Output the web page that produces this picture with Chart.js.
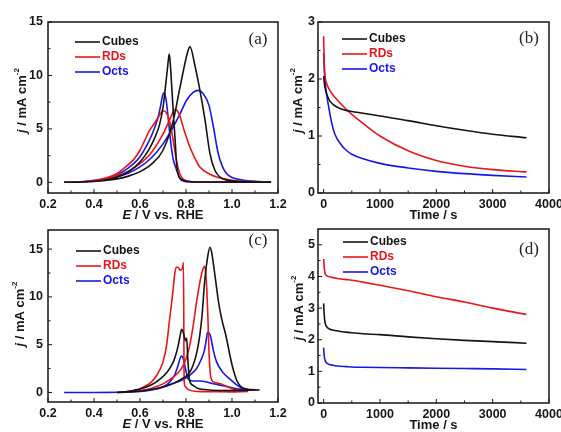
<!DOCTYPE html>
<html>
<head>
<meta charset="utf-8">
<script src="https://cdn.jsdelivr.net/npm/chart.js@4.4.1/dist/chart.umd.min.js"></script>
<style>
  body { margin: 0; background: #fff; }
  #wrap { position: relative; width: 561px; height: 432px; overflow: hidden; }
  #wrap canvas { position: absolute; }
</style>
</head>
<body>
<div id="wrap">
  <canvas id="cvA" width="292" height="225" style="left:0;top:0"></canvas>
  <canvas id="cvB" width="281" height="225" style="left:280px;top:0"></canvas>
  <canvas id="cvC" width="292" height="207" style="left:0;top:225px"></canvas>
  <canvas id="cvD" width="281" height="207" style="left:280px;top:225px"></canvas>
</div>
<script>
// (a) cyclic voltammograms, forward scan then reverse scan
const cubesA_E = [0.27,0.30,0.35,0.40,0.45,0.50,0.55,0.60,0.65,0.70,0.745,0.774,0.806,0.817,0.84,0.858,0.883,0.904,0.926,0.95,0.98,1.02,1.08,1.17,
                  1.10,1.00,0.90,0.82,0.795,0.78,0.768,0.76,0.752,0.744,0.737,0.731,0.727,0.721,0.715,0.709,0.70,0.685,0.665,0.64,0.60,0.55,0.50,0.45,0.40,0.35,0.27];
const cubesA_j = [0,0.01,0.03,0.08,0.17,0.32,0.58,1.0,1.7,3.0,5.8,8.9,12.1,12.7,10.8,8.9,5.8,2.7,1.1,0.45,0.2,0.1,0.05,0.02,
                  0.02,0.02,0.03,0.05,0.15,0.3,0.6,1.5,4.2,6.8,9.3,11.3,12.0,11.0,9.8,8.6,7.0,5.4,4.2,3.1,1.9,1.0,0.5,0.22,0.09,0.03,0];
const rdsA_E = [0.27,0.35,0.40,0.45,0.50,0.55,0.60,0.65,0.70,0.73,0.752,0.77,0.79,0.817,0.84,0.861,0.90,0.933,0.97,1.00,1.05,1.17,
                1.05,0.90,0.82,0.795,0.78,0.765,0.752,0.742,0.73,0.715,0.701,0.685,0.665,0.643,0.62,0.60,0.571,0.53,0.499,0.45,0.40,0.35,0.27];
const rdsA_j = [0,0.05,0.15,0.33,0.62,1.05,1.75,2.8,4.5,5.9,6.8,6.4,5.0,3.3,2.2,1.4,0.8,0.5,0.3,0.2,0.1,0.03,
                0.03,0.03,0.08,0.2,0.5,1.4,2.9,4.2,5.6,6.5,6.7,6.3,5.6,4.9,3.9,3.0,2.1,1.3,0.8,0.4,0.18,0.06,0];
const octsA_E = [0.27,0.35,0.40,0.45,0.50,0.55,0.60,0.65,0.70,0.745,0.774,0.803,0.83,0.853,0.875,0.90,0.919,0.94,0.96,0.977,1.00,1.05,1.10,1.17,
                 1.05,0.90,0.82,0.79,0.775,0.765,0.755,0.745,0.735,0.725,0.715,0.706,0.698,0.69,0.68,0.66,0.64,0.60,0.55,0.50,0.45,0.40,0.35,0.27];
const octsA_j = [0,0.04,0.12,0.27,0.5,0.88,1.45,2.3,3.6,5.2,6.4,7.7,8.4,8.6,8.3,7.2,5.2,2.7,1.4,0.8,0.45,0.2,0.1,0.05,
                 0.03,0.02,0.03,0.1,0.3,0.8,1.4,2.1,3.5,5.5,7.5,8.4,8.1,7.2,6.2,4.9,3.9,2.4,1.35,0.7,0.35,0.15,0.05,0];

// (c) cyclic voltammograms
const cubesC_E = [0.50,0.55,0.60,0.65,0.70,0.75,0.78,0.81,0.83,0.848,0.86,0.87,0.88,0.893,0.904,0.912,0.92,0.93,0.94,0.95,0.96,0.97,0.98,0.99,1.00,1.01,1.02,1.035,1.05,1.08,1.12,
                  1.05,0.95,0.88,0.85,0.83,0.815,0.808,0.803,0.799,0.795,0.788,0.781,0.775,0.765,0.755,0.745,0.72,0.687,0.65,0.60,0.55,0.50];
const cubesC_j = [0,0.04,0.12,0.3,0.55,1.0,1.4,1.9,2.8,4.3,6.0,8.1,11.3,14.0,15.2,14.6,13.3,11.5,9.7,8.3,7.2,6.3,5.2,4.0,2.9,2.0,1.3,0.7,0.45,0.3,0.25,
                  0.22,0.2,0.3,0.45,0.75,1.3,3.5,5.7,5.4,5.6,6.3,6.6,6.0,4.8,3.9,3.2,2.2,1.4,0.8,0.35,0.12,0];
const rdsC_E = [0.50,0.55,0.60,0.65,0.70,0.75,0.78,0.80,0.817,0.83,0.846,0.86,0.87,0.88,0.886,0.891,0.895,0.899,0.903,0.908,0.92,0.95,0.98,1.00,1.03,1.07,
                1.00,0.90,0.85,0.81,0.797,0.792,0.789,0.785,0.774,0.765,0.757,0.75,0.745,0.738,0.727,0.716,0.70,0.673,0.65,0.60,0.55,0.50];
const rdsC_j = [0,0.05,0.2,0.45,0.9,1.7,2.5,3.5,5.0,6.8,9.5,11.5,12.6,13.2,12.5,10.5,8.0,5.0,2.8,1.6,1.1,0.9,0.6,0.4,0.2,0.1,
                0.06,0.08,0.1,0.3,0.6,1.2,13.6,13.0,12.8,13.1,13.1,12.2,11.0,9.5,7.3,5.0,3.2,1.8,1.1,0.4,0.1,0];
const octsC_E = [0.27,0.40,0.50,0.60,0.65,0.70,0.75,0.80,0.83,0.846,0.865,0.88,0.888,0.894,0.905,0.92,0.933,0.96,0.991,1.02,1.05,1.07,
                 1.03,1.00,0.96,0.919,0.89,0.86,0.83,0.81,0.80,0.79,0.781,0.775,0.765,0.75,0.73,0.70,0.65,0.60,0.55,0.50,0.40,0.27];
const octsC_j = [0,0,0.02,0.15,0.3,0.6,1.0,1.5,2.1,2.5,3.4,4.4,5.5,6.3,6.0,4.3,3.2,2.1,1.4,0.8,0.4,0.3,
                 0.35,0.5,0.7,0.9,1.1,1.2,1.2,1.4,2.2,3.4,3.8,3.6,2.8,1.8,1.1,0.6,0.25,0.1,0.04,0.02,0,0];

// (b) and (d) chronoamperometry, sampled at the same times
const timeS = [0,10,25,50,100,150,200,300,400,500,700,1000,1500,2000,2500,3000,3600];
const cubesB = [2.05,1.95,1.85,1.75,1.63,1.57,1.53,1.48,1.45,1.43,1.40,1.35,1.27,1.18,1.10,1.03,0.97];
const rdsB   = [2.75,2.3,2.05,1.93,1.82,1.74,1.68,1.57,1.47,1.38,1.22,1.0,0.74,0.57,0.47,0.41,0.37];
const octsB  = [2.45,2.2,1.95,1.75,1.45,1.2,1.03,0.86,0.75,0.68,0.6,0.52,0.44,0.38,0.34,0.31,0.28];
const cubesD = [3.15,2.8,2.55,2.42,2.34,2.31,2.29,2.26,2.24,2.22,2.19,2.16,2.09,2.03,1.98,1.94,1.89];
const rdsD   = [4.55,4.3,4.1,4.03,3.99,3.97,3.95,3.92,3.9,3.88,3.82,3.72,3.55,3.36,3.19,3.0,2.8];
const octsD  = [1.75,1.5,1.35,1.27,1.22,1.2,1.18,1.16,1.15,1.14,1.13,1.12,1.11,1.1,1.09,1.08,1.06];

// tick labels
const eTicks = [0.2,0.4,0.6,0.8,1.0,1.2];
const tTicks = [0,1000,2000,3000,4000];
const jTicksA = [0,5,10,15];
const jTicksB = [0,1,2,3];
const jTicksC = [0,5,10,15];
const jTicksD = [0,1,2,3,4,5];

const ink = '#161616';
const colors = { Cubes: '#141414', RDs: '#e8161b', Octs: '#1818e6' };
const sans = '"Liberation Sans", Arial, sans-serif';

// text made of pieces: [text, 'i' italic | 's' superscript | '' plain]
function drawRich(ctx, parts, cx, cy, size) {
  const fontOf = p => p[1] === 's' ? `bold ${Math.round(size * 0.62)}px ${sans}`
                                   : `${p[1] === 'i' ? 'italic ' : ''}bold ${size}px ${sans}`;
  let total = 0;
  parts.forEach(p => { ctx.font = fontOf(p); total += ctx.measureText(p[0]).width; });
  let x = cx - total / 2;
  parts.forEach(p => {
    ctx.font = fontOf(p);
    ctx.fillText(p[0], x, p[1] === 's' ? cy - size * 0.42 : cy);
    x += ctx.measureText(p[0]).width;
  });
}

function midpoints(v) {
  const out = [];
  for (let i = 0; i < v.length - 1; i++) out.push((v[i] + v[i + 1]) / 2);
  return out;
}

// frame, inward ticks, legend, panel letter and axis titles
function framePlugin(p) {
  return {
    id: 'frame',
    afterDatasetsDraw(chart) {
      const { ctx, chartArea: a, scales: { x, y } } = chart;
      ctx.save();
      ctx.strokeStyle = ink;
      ctx.lineWidth = 1;
      ctx.beginPath();
      p.xTicks.forEach(v => { const px = x.getPixelForValue(v); ctx.moveTo(px, a.bottom); ctx.lineTo(px, a.bottom - 4); });
      midpoints(p.xTicks).forEach(v => { const px = x.getPixelForValue(v); ctx.moveTo(px, a.bottom); ctx.lineTo(px, a.bottom - 2.5); });
      p.yTicks.forEach(v => { const py = y.getPixelForValue(v); ctx.moveTo(a.left, py); ctx.lineTo(a.left + 4, py); });
      midpoints(p.yTicks).forEach(v => { const py = y.getPixelForValue(v); ctx.moveTo(a.left, py); ctx.lineTo(a.left + 2.5, py); });
      ctx.stroke();
      ctx.lineWidth = 1.5;
      ctx.strokeRect(a.left, a.top, a.right - a.left, a.bottom - a.top);

      // legend
      ctx.textBaseline = 'middle';
      ctx.textAlign = 'left';
      ctx.font = `bold 12px ${sans}`;
      chart.data.datasets.forEach((ds, i) => {
        const ly = a.top + p.legend[1] + i * 15;
        const lx = a.left + p.legend[0];
        ctx.strokeStyle = ds.borderColor;
        ctx.lineWidth = 1.6;
        ctx.beginPath(); ctx.moveTo(lx, ly); ctx.lineTo(lx + 25, ly); ctx.stroke();
        ctx.fillStyle = ds.borderColor;
        ctx.fillText(ds.label, lx + 27, ly);
      });

      // panel letter
      ctx.fillStyle = '#222';
      ctx.textAlign = 'center';
      ctx.font = `17px "Liberation Serif", "Times New Roman", serif`;
      ctx.fillText(p.tag, a.right - 20, a.top + p.tagDy);

      // axis titles
      ctx.fillStyle = ink;
      ctx.textAlign = 'left';
      drawRich(ctx, p.xTitle, (a.left + a.right) / 2, a.bottom + 22, 13);
      ctx.translate(a.left - p.yTitleDx, (a.top + a.bottom) / 2 + p.yTitleDy);
      ctx.rotate(-Math.PI / 2);
      drawRich(ctx, [['j', 'i'], [' / mA cm', ''], ['-2', 's']], 0, 0, 13);
      ctx.restore();
    }
  };
}

function makePanel(id, p) {
  const cv = document.getElementById(id);
  const W = cv.width, H = cv.height;
  const tickFont = { family: sans, size: 12.5, weight: 'bold' };
  new Chart(cv, {
    type: 'scatter',
    data: {
      datasets: p.series.map(s => ({
        label: s[0],
        data: s[1].map((v, i) => ({ x: v, y: s[2][i] })),
        showLine: true,
        borderColor: colors[s[0]],
        borderWidth: 1.6,
        pointRadius: 0,
        cubicInterpolationMode: 'monotone',
        fill: false
      }))
    },
    options: {
      responsive: false,
      animation: false,
      events: [],
      layout: { padding: { left: 0, top: p.area[2], right: W - p.area[1], bottom: 0 } },
      plugins: { legend: { display: false }, tooltip: { enabled: false } },
      scales: {
        x: {
          type: 'linear', min: p.xRange[0], max: p.xRange[1],
          grid: { display: false, drawTicks: false }, border: { display: false },
          afterBuildTicks: s => { s.ticks = p.xTicks.map(v => ({ value: v })); },
          afterFit: s => { s.height = H - p.area[3]; s.paddingLeft = 0; s.paddingRight = 0; },
          ticks: { padding: 4, font: tickFont, color: ink, maxRotation: 0, autoSkip: false, callback: p.xFmt }
        },
        y: {
          type: 'linear', min: p.yRange[0], max: p.yRange[1],
          grid: { display: false, drawTicks: false }, border: { display: false },
          afterBuildTicks: s => { s.ticks = p.yTicks.map(v => ({ value: v })); },
          afterFit: s => { s.width = p.area[0]; s.paddingTop = 0; s.paddingBottom = 0; },
          ticks: { padding: p.yPad, font: tickFont, color: ink, autoSkip: false, callback: v => String(v) }
        }
      }
    },
    plugins: [framePlugin(p)]
  });
}

const eTitle = [['E', 'i'], [' / V vs. RHE', '']];
const tTitle = [['Time / s', '']];

makePanel('cvA', {
  area: [48, 278, 22, 193], xRange: [0.2, 1.2], yRange: [-1, 15],
  xTicks: eTicks, yTicks: jTicksA, xFmt: v => v.toFixed(1), yPad: 5,
  series: [['Cubes', cubesA_E, cubesA_j], ['RDs', rdsA_E, rdsA_j], ['Octs', octsA_E, octsA_j]],
  legend: [27, 20], tag: '(a)', tagDy: 18, xTitle: eTitle, yTitleDx: 26, yTitleDy: -7
});
makePanel('cvB', {
  area: [38, 269, 22, 193], xRange: [-100, 4000], yRange: [0, 3],
  xTicks: tTicks, yTicks: jTicksB, xFmt: v => String(v), yPad: 3,
  series: [['Cubes', timeS, cubesB], ['RDs', timeS, rdsB], ['Octs', timeS, octsB]],
  legend: [24, 17], tag: '(b)', tagDy: 17, xTitle: tTitle, yTitleDx: 20, yTitleDy: -7
});
makePanel('cvC', {
  area: [48, 278, 5, 177], xRange: [0.2, 1.2], yRange: [-1, 17],
  xTicks: eTicks, yTicks: jTicksC, xFmt: v => v.toFixed(1), yPad: 5,
  series: [['Cubes', cubesC_E, cubesC_j], ['RDs', rdsC_E, rdsC_j], ['Octs', octsC_E, octsC_j]],
  legend: [28, 21], tag: '(c)', tagDy: 11, xTitle: eTitle, yTitleDx: 28, yTitleDy: -2
});
makePanel('cvD', {
  area: [38, 269, 4, 178], xRange: [-100, 4000], yRange: [0, 5.5],
  xTicks: tTicks, yTicks: jTicksD, xFmt: v => String(v), yPad: 3,
  series: [['Cubes', timeS, cubesD], ['RDs', timeS, rdsD], ['Octs', timeS, octsD]],
  legend: [25, 13], tag: '(d)', tagDy: 21, xTitle: tTitle, yTitleDx: 19, yTitleDy: -8
});
</script>
</body>
</html>
